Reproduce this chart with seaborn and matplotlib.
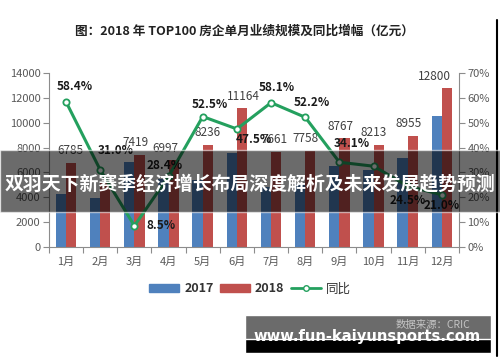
import numpy as np
import pandas as pd
import matplotlib
matplotlib.use('Agg')
import matplotlib.pyplot as plt
import seaborn as sns
from matplotlib.patches import Rectangle, Patch
from matplotlib.lines import Line2D

# 数据 (从图中读取/估计)
months = ['1月', '2月', '3月', '4月', '5月', '6月', '7月', '8月', '9月', '10月', '11月', '12月']
sales_2017 = [4283, 3900, 6838, 5449, 5401, 7569, 4846, 5097, 6538, 6199, 7193, 10579]
sales_2018 = [6785, 5110, 7419, 6997, 8236, 11164, 7661, 7758, 8767, 8213, 8955, 12800]
yoy = [58.4, 31.0, 8.5, 28.4, 52.5, 47.5, 58.1, 52.2, 34.1, 32.5, 24.5, 21.0]
labels_2018 = ['6785', '', '7419', '6997', '8236', '11164', '7661', '7758', '8767', '8213', '8955', '12800']
labels_yoy = ['58.4%', '31.0%', '8.5%', '28.4%', '52.5%', '47.5%', '58.1%', '52.2%', '34.1%', '', '24.5%', '21.0%']

# 标签偏移 (像素)
val_dx = [-1, 0, -4, -8, 0, 1, -2, -5, -4, -5, -4, -13]
yoy_off = [(9, 15), (15, 19), (27, 0), (-4, 11), (7, 12), (17, -11),
           (6, 15), (7, 15), (12, 19), (0, 0), (0, -14), (0, -11)]

blue = '#4f81bd'
red = '#c0504d'
green = '#24a05e'
gray = '#595959'

sns.set_style('white')
plt.rcParams['font.family'] = ['Noto Sans CJK SC', 'DejaVu Sans']
plt.rcParams['axes.unicode_minus'] = False

df = pd.DataFrame({
    '月份': months * 2,
    '销售额': sales_2017 + sales_2018,
    '年份': ['2017'] * 12 + ['2018'] * 12,
})

fig = plt.figure(figsize=(5, 3.62), dpi=100)
ax = fig.add_axes([0.098, 0.318, 0.82, 0.48])
sns.barplot(data=df, x='月份', y='销售额', hue='年份', palette=[blue, red],
            width=0.6, saturation=1, legend=False, ax=ax, linewidth=0)
ax.set_ylim(0, 14000)
ax.set_yticks(range(0, 14001, 2000))
ax.set_xlabel('')
ax.set_ylabel('')
ax.set_xlim(-0.5, 11.5)

ax2 = ax.twinx()
sns.lineplot(x=np.arange(12), y=yoy, ax=ax2, color=green, linewidth=2.2,
             marker='o', markersize=4.5, markerfacecolor='white',
             markeredgecolor=green, markeredgewidth=1.3)
ax2.set_ylim(0, 70)
ax2.set_yticks(range(0, 71, 10))
ax2.set_yticklabels([f'{v}%' for v in range(0, 71, 10)])

for a in (ax, ax2):
    for s in a.spines.values():
        s.set_color('#8c8c8c')
        s.set_linewidth(0.8)
    a.spines['top'].set_visible(False)
ax.spines['right'].set_visible(False)
ax2.spines['left'].set_visible(False)
ax2.spines['bottom'].set_visible(False)

ax.tick_params(axis='y', length=4, width=0.8, color='#8c8c8c', labelcolor=gray,
               labelsize=8, pad=2, left=True)
ax2.tick_params(axis='y', length=4, width=0.8, color='#8c8c8c', labelcolor=gray,
                labelsize=8, pad=2, right=True)
ax.tick_params(axis='x', length=0, labelcolor=gray, labelsize=8, pad=7)
ax.set_xticks(np.arange(-0.5, 12, 1), minor=True)
ax.tick_params(axis='x', which='minor', length=4, width=0.8, color='#8c8c8c', bottom=True)

# 2018 数值标签
for i, t in enumerate(labels_2018):
    if t:
        ax.annotate(t, (i + 0.15, sales_2018[i]), xytext=(val_dx[i], 12),
                    textcoords='offset pixels', ha='center', va='center',
                    fontsize=8.5, color='#404040')

# 同比标签
for i, t in enumerate(labels_yoy):
    if t:
        ax2.annotate(t, (i, yoy[i]), xytext=yoy_off[i], textcoords='offset pixels',
                     ha='center', va='center', fontsize=8.5, fontweight='bold',
                     color='#1a1a1a')

# 标题
fig.text(0.489, 1 - 31 / 362, '图：2018 年 TOP100 房企单月业绩规模及同比增幅（亿元）',
         ha='center', va='center', fontsize=9.1, fontweight='bold', color='#222222')

# 图例
handles = [Patch(color=blue), Patch(color=red),
           Line2D([], [], color=green, lw=2, marker='o', markersize=4,
                  markerfacecolor='white', markeredgecolor=green)]
leg = fig.legend(handles, ['2017', '2018', '同比'], loc='center',
                 bbox_to_anchor=(0.5, 1 - 289 / 362), ncol=3, frameon=False,
                 prop={'size': 9, 'weight': 'bold'}, handlelength=2.4,
                 handleheight=0.55, handletextpad=0.4, columnspacing=0.5)
leg.get_texts()[2].set_fontweight('normal')
for t in leg.get_texts():
    t.set_color('#333333')

# 横幅遮罩
fig.patches.append(Rectangle((0, 1 - 212 / 362), 1, 62 / 362, transform=fig.transFigure,
                             facecolor='black', alpha=0.58, zorder=10))
fig.text(0.5, 1 - 184 / 362, '双羽天下新赛季经济增长布局深度解析及未来发展趋势预测',
         ha='center', va='center', fontsize=13.6, fontweight='bold', color='white', zorder=11)

# 水印
fig.patches.append(Rectangle((245 / 500, 1 - 353 / 362), 246 / 500, 38 / 362,
                             transform=fig.transFigure, facecolor='#6b6b6b', zorder=10))
fig.patches.append(Rectangle((245 / 500, 1 - 353 / 362), 246 / 500, 14 / 362,
                             transform=fig.transFigure, facecolor='black', zorder=10))
fig.text(470 / 500, 1 - 325 / 362, '数据来源：CRIC', ha='right', va='center',
         fontsize=7.5, color='#c4c4c4', zorder=11)
fig.text(367 / 500, 1 - 337 / 362, 'www.fun-kaiyunsports.com', ha='center', va='center',
         fontsize=10.6, fontweight='bold', color='white', family='DejaVu Sans', zorder=12)

# 右边框线
fig.lines.append(Line2D([497 / 500, 497 / 500], [1 - 356 / 362, 1 - 20 / 362],
                        transform=fig.transFigure, color='black', lw=1.5))

fig.savefig('out.png', dpi=100)
